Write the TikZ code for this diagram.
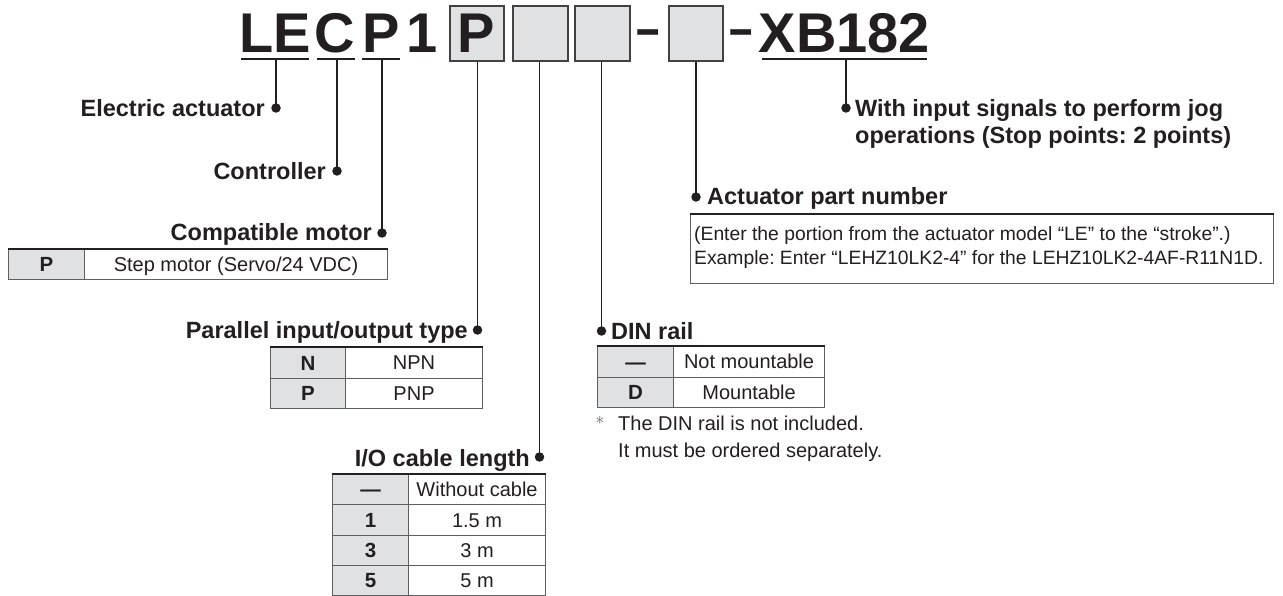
\documentclass[tikz,border=0pt]{standalone}
\usepackage{fontspec}
\setmainfont{Liberation Sans}
\usetikzlibrary{calc}
\definecolor{ink}{HTML}{231F20}
\definecolor{cellgray}{HTML}{E0E1E3}
\definecolor{rulegray}{HTML}{5E5F61}
\tikzset{
  lbl/.style={font=\fontsize{23.5}{28}\selectfont\bfseries, text=ink, inner sep=0pt},
  txt/.style={font=\fontsize{20}{24}\selectfont, text=ink, inner sep=0pt},
  boxtxt/.style={font=\fontsize{19.3}{23}\selectfont, text=ink, inner sep=0pt},
  ttl/.style={font=\fontsize{56}{60}\selectfont\bfseries, text=ink, inner sep=0pt, anchor=base},
  lead/.style={draw=ink, line width=1.6pt},
  dotmark/.style={circle, fill=ink, inner sep=0pt, minimum size=9.5pt},
  codebox/.style={draw=ink!85, line width=2.2pt, fill=cellgray, inner sep=0pt, anchor=north west, minimum height=55},
  uline/.style={draw=ink, line width=2.6pt},
  keycell/.style={draw=rulegray, line width=1.1pt, fill=cellgray, inner sep=0pt, anchor=north west,
    font=\fontsize{20.5}{24}\selectfont\bfseries, text=ink, text height=14.6pt, text depth=0pt},
  valcell/.style={draw=rulegray, line width=1.1pt, fill=white, inner sep=0pt, anchor=north west,
    font=\fontsize{20}{24}\selectfont, text=ink, text height=14.3pt, text depth=0pt},
  topline/.style={draw=ink, line width=2.2pt},
}
\begin{document}
\frenchspacing
\begin{tikzpicture}[x=1pt,y=-1pt]
\useasboundingbox[fill=white] (0,0) rectangle (1283,596);

% ---------- title ----------
\node[ttl] (tLE) at (275,53) {LE};
\node[ttl] (tC) at (335,53) {C};
\node[ttl] (tP) at (381,53) {P};
\node[ttl] (t1) at (422,53) {1};
\node[codebox, minimum width=54] (b1) at (449,5) {};
\node[ttl] (tPb) at (476,53) {P};
\node[codebox, minimum width=55] (b2) at (512,5) {};
\node[codebox, minimum width=55] (b3) at (574,5) {};
\node[ttl] (dash1) at (648.5,48) {\scalebox{0.75}[1]{–}};
\node[codebox, minimum width=54] (b4) at (668,5) {};
\node[ttl] (dash2) at (741.5,48) {\scalebox{0.75}[1]{–}};
\node[ttl] (tXB) at (844.5,53) {XB182};

\draw[uline] (241,59) -- (309,59);
\draw[uline] (317,59) -- (355,59);
\draw[uline] (362,59) -- (400,59);
\draw[uline] (762,59) -- (927,59);

\coordinate (uLE) at (276,59);
\coordinate (uC) at (337,59);
\coordinate (uP) at (382,59);
\coordinate (uXB) at (846,59);

% ---------- dots ----------
\node[dotmark] (dLE) at (276,108) {};
\node[dotmark] (dC) at (337,171) {};
\node[dotmark] (dP) at (382,233) {};
\node[dotmark] (d1) at (477.5,330) {};
\node[dotmark] (d2) at (539.5,457) {};
\node[dotmark] (d3) at (601.5,331) {};
\node[dotmark] (d4) at (696,197) {};
\node[dotmark] (dXB) at (846,108) {};

% ---------- leaders ----------
\draw[lead] (uLE) -- (dLE.center);
\draw[lead] (uC) -- (dC.center);
\draw[lead] (uP) -- (dP.center);
\draw[lead] (b1.south -| d1) -- (d1.center);
\draw[lead] (b2.south -| d2) -- (d2.center);
\draw[lead] (b3.south -| d3) -- (d3.center);
\draw[lead] (b4.south -| d4) -- (d4.center);
\draw[lead] (uXB) -- (dXB.center);

% ---------- labels ----------
\node[lbl, anchor=base east] (lEA) at (265,117) {Electric actuator};
\node[lbl, anchor=base east] (lCT) at (326,180) {Controller};
\node[lbl, anchor=base east] (lCM) at (372,241) {Compatible motor};
\node[lbl, anchor=base east] (lPI) at (468,338) {Parallel input/output type};
\node[lbl, anchor=base east] (lIO) at (530,466) {I/O cable length};
\node[lbl, anchor=base west] (lDIN) at (611,339) {DIN rail};
\node[lbl, anchor=base west] (lAP) at (707,205) {Actuator part number};
\node[lbl, anchor=base west] (lWI1) at (855,117) {With input signals to perform jog};
\node[lbl, anchor=base west] (lWI2) at (855,144) {operations (Stop points: 2 points)};

% ---------- compatible motor table ----------
\node[keycell, minimum width=76, minimum height=30] (cmK) at (8,249) {P};
\node[valcell, minimum width=303, minimum height=30] (cmV) at (84,249) {Step motor (Servo/24 VDC)};
\draw[topline] (cmK.north west) -- (cmV.north east);

% ---------- parallel I/O table ----------
\node[keycell, minimum width=75, minimum height=30.5] (piK1) at (270,347) {N};
\node[valcell, minimum width=137, minimum height=30.5] (piV1) at (345,347) {NPN};
\node[keycell, minimum width=75, minimum height=30.5] (piK2) at (270,377.5) {P};
\node[valcell, minimum width=137, minimum height=30.5] (piV2) at (345,377.5) {PNP};
\draw[topline] (piK1.north west) -- (piV1.north east);

% ---------- I/O cable table ----------
\node[keycell, minimum width=76, minimum height=30.25] (ioK1) at (332,474) {—};
\node[valcell, minimum width=137, minimum height=30.25] (ioV1) at (408,474) {Without cable};
\node[keycell, minimum width=76, minimum height=30.25] (ioK2) at (332,504.25) {1};
\node[valcell, minimum width=137, minimum height=30.25] (ioV2) at (408,504.25) {1.5 m};
\node[keycell, minimum width=76, minimum height=30.25] (ioK3) at (332,534.5) {3};
\node[valcell, minimum width=137, minimum height=30.25] (ioV3) at (408,534.5) {3 m};
\node[keycell, minimum width=76, minimum height=30.25] (ioK4) at (332,564.75) {5};
\node[valcell, minimum width=137, minimum height=30.25] (ioV4) at (408,564.75) {5 m};
\draw[topline] (ioK1.north west) -- (ioV1.north east);

% ---------- DIN rail table ----------
\node[keycell, minimum width=76, minimum height=30.5] (dnK1) at (597,346) {—};
\node[valcell, minimum width=151, minimum height=30.5] (dnV1) at (673,346) {Not mountable};
\node[keycell, minimum width=76, minimum height=30.5] (dnK2) at (597,376.5) {D};
\node[valcell, minimum width=151, minimum height=30.5] (dnV2) at (673,376.5) {Mountable};
\draw[topline] (dnK1.north west) -- (dnV1.north east);

\node[anchor=center, inner sep=0pt, text=rulegray] (ast) at (600,420) {\fontsize{17}{17}\selectfont$\ast$};
\node[txt, anchor=base west] (nt1) at (618,430) {The DIN rail is not included.};
\node[txt, anchor=base west] (nt2) at (618,457) {It must be ordered separately.};

% ---------- actuator part number box ----------
\node[draw=rulegray, line width=1.1pt, inner sep=0pt, anchor=north west, minimum width=583, minimum height=69] (apbox) at (690,214) {};
\draw[topline] (apbox.north west) -- (apbox.north east);
\node[boxtxt, anchor=base west] (ap1) at (694,241) {(Enter the portion from the actuator model “LE” to the “stroke”.)};
\node[boxtxt, anchor=base west] (ap2) at (694,265) {Example: Enter “LEHZ10LK2-4” for the LEHZ10LK2-4AF-R11N1D.};
\end{tikzpicture}
\end{document}
